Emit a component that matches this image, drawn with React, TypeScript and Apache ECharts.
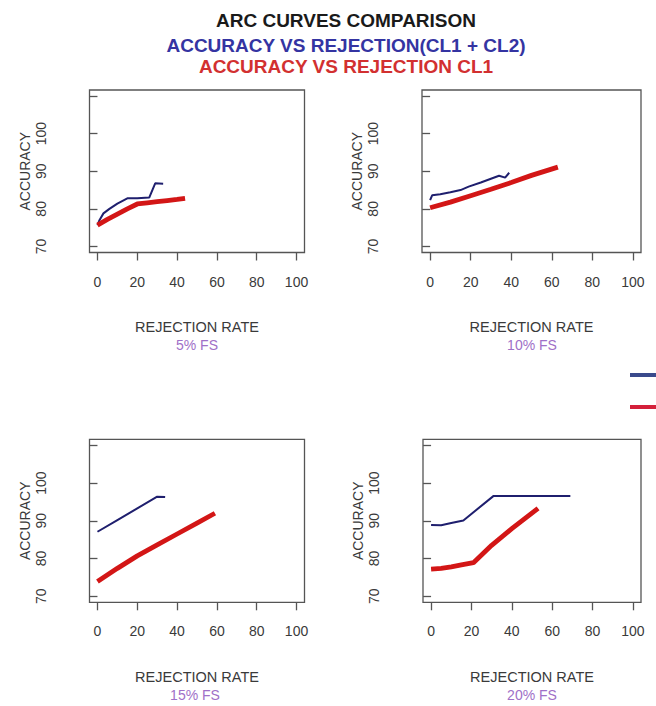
import React, { useEffect, useRef } from 'react';
import * as echarts from 'echarts';

const xTicks = [0, 20, 40, 60, 80, 100];
const yTicks = [70, 80, 90, 100, 110];
const yLabels = [70, 80, 90, 100];
const panelLabels = ['5% FS', '10% FS', '15% FS', '20% FS'];
const seriesNames = ['CL1 + CL2', 'CL1'];
const titleLines = ['ARC CURVES COMPARISON', 'ACCURACY VS REJECTION(CL1 + CL2)', 'ACCURACY VS REJECTION CL1'];

// [rejection rate, accuracy]
const blue5 = [[0, 75.7], [1, 77], [3, 78.8], [6, 80], [10, 81.4], [15, 82.8], [20, 82.8], [26, 83], [29, 86.8], [33, 86.7]];
const red5 = [[0, 75.7], [5, 77.2], [10, 78.6], [15, 80], [20, 81.3], [25, 81.6], [30, 81.9], [35, 82.2], [40, 82.5], [44, 82.8]];
const blue10 = [[0, 82.3], [1, 83.6], [5, 83.9], [10, 84.4], [15, 85], [19, 85.9], [25, 87], [30, 88], [34, 88.8], [37, 88.3], [39, 89.6]];
const red10 = [[0, 80.3], [10, 81.8], [20, 83.5], [30, 85.2], [40, 87], [50, 88.9], [63, 91.1]];
const blue15 = [[0, 87.1], [10, 90.2], [20, 93.3], [30, 96.4], [34, 96.3]];
const red15 = [[0, 73.9], [10, 77.4], [20, 80.7], [30, 83.6], [40, 86.5], [50, 89.4], [59, 92]];
const blue20 = [[0, 88.9], [5, 88.8], [10, 89.4], [16, 90.1], [31, 96.6], [69, 96.6]];
const red20 = [[0, 77.2], [5, 77.4], [10, 77.8], [15, 78.3], [21, 78.9], [30, 83.5], [40, 87.9], [53, 93.3]];

const blueData = [blue5, blue10, blue15, blue20];
const redData = [red5, red10, red15, red20];

const FONT = '"Liberation Sans", Arial, sans-serif';
const BLUE = '#1f1f6e';
const RED = '#d31616';
const AXIS = '#555555';
const TEXT = '#3a3a3a';

const grids = [
  { left: 89.5, top: 90, width: 215, height: 162.5 },
  { left: 422, top: 90, width: 219, height: 162.5 },
  { left: 89.5, top: 439.3, width: 215, height: 163 },
  { left: 423, top: 439.3, width: 218, height: 163 },
];

function buildOption() {
  const grid = grids.map((g) => ({
    ...g,
    show: true,
    borderColor: AXIS,
    borderWidth: 1.3,
    backgroundColor: 'transparent',
    containLabel: false,
  }));
  const xAxis = grids.map((_, i) => ({
    type: 'value',
    gridIndex: i,
    min: -4,
    max: 104,
    axisLine: { show: false },
    splitLine: { show: false },
    axisTick: { show: true, customValues: xTicks, length: 8, lineStyle: { color: AXIS, width: 1.3 } },
    axisLabel: { customValues: xTicks, margin: 22, fontSize: 14, color: TEXT, fontFamily: FONT },
    name: 'REJECTION RATE',
    nameLocation: 'middle',
    nameGap: 67,
    nameTextStyle: { fontSize: 14.5, color: TEXT, fontFamily: FONT },
  }));
  const yAxis = grids.map((_, i) => ({
    type: 'value',
    gridIndex: i,
    min: 68.4,
    max: 111.6,
    axisLine: { show: false },
    splitLine: { show: false },
    axisTick: { show: true, customValues: yTicks, length: 8, lineStyle: { color: AXIS, width: 1.3 } },
    axisLabel: {
      customValues: yLabels,
      rotate: 90,
      margin: 28,
      padding: [0, 0, 14, 0],
      fontSize: 14,
      color: TEXT,
      fontFamily: FONT,
    },
    name: 'ACCURACY',
    nameLocation: 'middle',
    nameGap: 58,
    nameTextStyle: { fontSize: 14, color: TEXT, fontFamily: FONT },
  }));
  const series: any[] = [];
  grids.forEach((_, i) => {
    series.push({
      type: 'line',
      name: seriesNames[0],
      xAxisIndex: i,
      yAxisIndex: i,
      data: blueData[i],
      symbol: 'none',
      lineStyle: { color: BLUE, width: 2 },
      itemStyle: { color: '#3a4a8c' },
      z: 2,
    });
    series.push({
      type: 'line',
      name: seriesNames[1],
      xAxisIndex: i,
      yAxisIndex: i,
      data: redData[i],
      symbol: 'none',
      lineStyle: { color: RED, width: 4.8 },
      itemStyle: { color: '#d4203a' },
      z: 3,
    });
  });

  const titleColors = ['#1a1a1a', '#3434a2', '#d23030'];
  const titleY = [20.5, 45, 66];
  const subPos = [
    [197, 345],
    [532, 345],
    [195, 695],
    [532, 695],
  ];
  const graphic: any[] = [];
  titleLines.forEach((t, i) => {
    graphic.push({
      type: 'text',
      x: 346,
      y: titleY[i],
      style: {
        text: t,
        fill: titleColors[i],
        font: `bold 19px ${FONT}`,
        textAlign: 'center',
        textVerticalAlign: 'middle',
      },
    });
  });
  panelLabels.forEach((t, i) => {
    graphic.push({
      type: 'text',
      x: subPos[i][0],
      y: subPos[i][1],
      style: {
        text: t,
        fill: '#a070c8',
        font: `14px ${FONT}`,
        textAlign: 'center',
        textVerticalAlign: 'middle',
      },
    });
  });

  return {
    animation: false,
    backgroundColor: '#ffffff',
    grid,
    xAxis,
    yAxis,
    series,
    legend: {
      data: seriesNames,
      orient: 'vertical',
      left: 625,
      top: 368,
      itemWidth: 40,
      itemHeight: 4,
      itemGap: 28,
      icon: 'rect',
      formatter: () => '',
      textStyle: { fontSize: 4 },
    },
    graphic,
  };
}

export default function App() {
  const ref = useRef<HTMLDivElement>(null);
  useEffect(() => {
    document.body.style.margin = '0';
    const chart = echarts.init(ref.current!, null, { renderer: 'svg' });
    chart.setOption(buildOption() as any);
    return () => chart.dispose();
  }, []);
  return <div ref={ref} style={{ width: 656, height: 706 }} />;
}
